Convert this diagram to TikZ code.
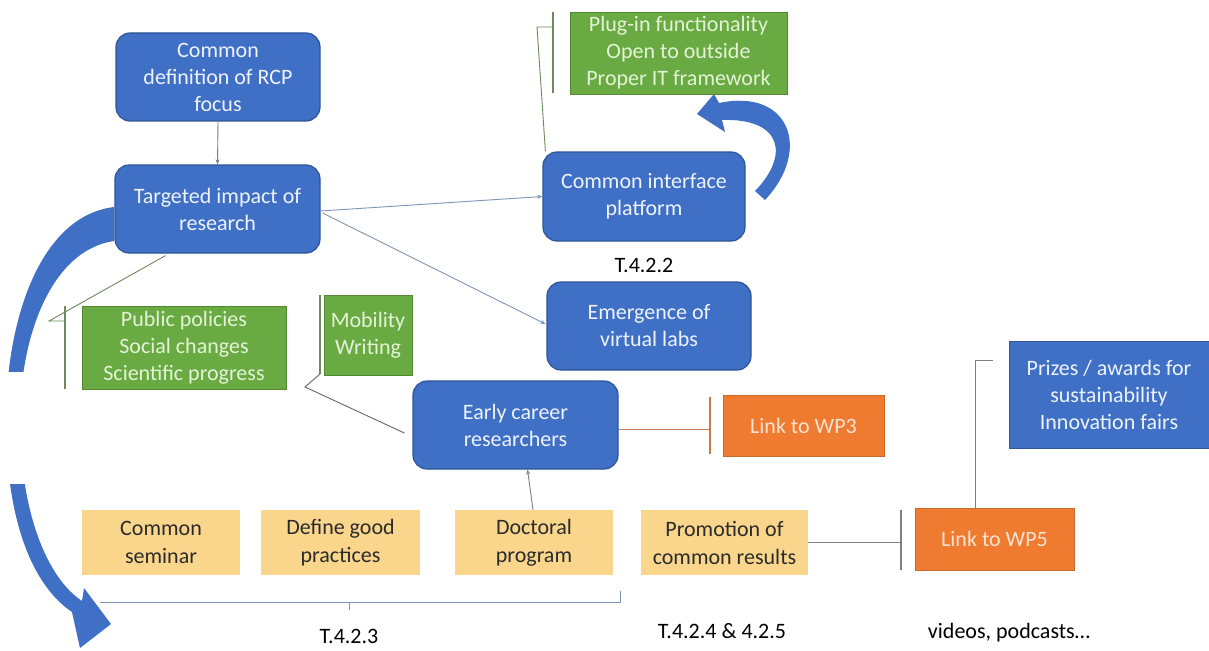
\documentclass[tikz,border=0pt]{standalone}
\usepackage{fontspec}
\setmainfont{Carlito}
\usetikzlibrary{calc,arrows.meta}
\begin{document}
\definecolor{bfill}{HTML}{3F70C6}
\definecolor{bdraw}{HTML}{2E5597}
\definecolor{gfill}{HTML}{6AAA42}
\definecolor{gtext}{HTML}{E4F3D8}
\definecolor{ofill}{HTML}{EE7B30}
\definecolor{otext}{HTML}{FBE3D2}
\definecolor{yfill}{HTML}{FAD68C}
\definecolor{ytext}{HTML}{2B2B2B}
\definecolor{btext}{HTML}{EEF3FB}
\definecolor{lgray}{HTML}{7F7F7F}
\definecolor{lblue}{HTML}{7F95B8}
\definecolor{lorange}{HTML}{C87A4A}
\definecolor{lgreen}{HTML}{6E8A5C}
\tikzset{
  rbox/.style={draw=bdraw, line width=1.2pt, fill=bfill, rounded corners=14pt, text=btext,
    align=center, inner sep=0pt, font=\fontsize{22}{27}\selectfont},
  sbox/.style={fill=bfill, draw=bdraw, line width=0.8pt, text=btext, align=center, inner sep=0pt,
    font=\fontsize{22}{27}\selectfont},
  gbox/.style={fill=gfill, draw=gfill!80!black, line width=0.6pt, text=gtext, align=center, inner sep=0pt,
    font=\fontsize{22}{27}\selectfont},
  obox/.style={fill=ofill, draw=ofill!85!black, line width=0.6pt, text=otext, align=center, inner sep=0pt,
    font=\fontsize{22}{27}\selectfont},
  ybox/.style={fill=yfill, text=ytext, align=center, inner sep=0pt,
    font=\fontsize{22}{28}\selectfont},
  lab/.style={text=black, font=\fontsize{22}{26}\selectfont, inner sep=0pt},
  conn/.style={draw=lgray, line width=0.9pt},
  bconn/.style={draw=lblue, line width=0.9pt, -{Stealth[length=5pt,width=4pt]}},
  garrow/.style={draw=lgray, line width=0.9pt, -{Stealth[length=5pt,width=4pt]}},
  bigarrow/.style={fill=bfill, draw=none},
}
\begin{tikzpicture}[x=1pt,y=-1pt]
\useasboundingbox (0,0) rectangle (1209,650);
\fill[white] (0,0) rectangle (1209,650);

% big curved arrows
\path[bigarrow] (114,207) .. controls (40,216) and (6,320) .. (6,420)
   .. controls (6,520) and (32,585) .. (72,612) -- (80,648) -- (111,624) -- (84,588) -- (82,601)
   .. controls (46,577) and (20,510) .. (20,420)
   .. controls (20,335) and (52,250) .. (114,241) -- cycle;
\fill[white] (0,372) rectangle (45,484);
\path[bigarrow] (755,191) .. controls (790,155) and (782,118) .. (722,120) -- (725,132) -- (697,114)
   -- (714,94) -- (719,103) .. controls (790,88) and (812,150) .. (765,200) -- cycle;

% blue rounded boxes
\node[rbox, minimum width=204pt, minimum height=88pt] (cdef) at (218,77) {Common\\definition of RCP\\focus};
\node[rbox, minimum width=205pt, minimum height=88pt] (tir) at (217.5,209) {Targeted impact of\\research};
\node[rbox, minimum width=202pt, minimum height=89pt] (cip) at (644,196.5) {Common interface\\platform};
\node[rbox, minimum width=204pt, minimum height=88pt] (evl) at (649,326) {Emergence of\\virtual labs};
\node[rbox, minimum width=205pt, minimum height=88pt] (ecr) at (515.5,425) {Early career\\researchers};
\node[sbox, minimum width=200pt, minimum height=107pt] (prz) at (1109,394.5) {Prizes / awards for\\sustainability\\Innovation fairs};

% green boxes
\node[gbox, minimum width=217pt, minimum height=82pt] (plug) at (678.5,53) {Plug-in functionality\\Open to outside\\Proper IT framework};
\node[gbox, minimum width=204pt, minimum height=83pt] (pub) at (184,347.5) {Public policies\\Social changes\\Scientific progress};
\node[gbox, minimum width=88pt, minimum height=80pt] (mob) at (368,335) {Mobility\\Writing};

% orange boxes
\node[obox, minimum width=161pt, minimum height=61pt] (wp3) at (803.5,425.5) {Link to WP3};
\node[obox, minimum width=159pt, minimum height=62pt] (wp5) at (994.5,539) {Link to WP5};

% yellow boxes
\node[ybox, minimum width=158pt, minimum height=65pt] (cs) at (161,542.5) {Common\\seminar};
\node[ybox, minimum width=159pt, minimum height=65pt] (dgp) at (340.5,542.5) {Define good\\practices};
\node[ybox, minimum width=158pt, minimum height=65pt] (doc) at (534,542.5) {Doctoral\\program};
\node[ybox, minimum width=167pt, minimum height=65pt] (prom) at (724.5,542.5) {Promotion of\\common results};

% labels
\node[lab] (t422) at (644,265) {T.4.2.2};
\node[lab] (t423) at (349,636) {T.4.2.3};
\node[lab] (t4245) at (722,631) {T.4.2.4 \& 4.2.5};
\node[lab] (vid) at (1009,633) {videos, podcasts…};

% connectors
\draw[garrow] (cdef.south) -- (tir.north);
\draw[bconn] ($(tir.east)+(0,2)$) -- (cip.west);
\draw[bconn] ($(tir.east)+(2,4)$) -- ($(evl.west)+(-1,-2)$);
\draw[garrow] ($(doc.north)+(-1,0)$) -- ($(ecr.south)+(12,0)$);

% plug bracket
\coordinate (pa) at (553,12);
\coordinate (pb) at (553,93);
\coordinate (pc) at (553,27);
\coordinate (pd) at (537,27);
\coordinate (pe) at ($(cip.north west)+(3,0)$);
\draw[draw=lgreen, line width=1.6pt] (pa) -- (pb);
\draw[draw=lgreen, line width=0.9pt] (pc) -- (pd) -- (pe);

% public bracket
\coordinate (qa) at (65,306);
\coordinate (qb) at (65,389);
\coordinate (qc) at (65,321);
\coordinate (qd) at (49,321);
\coordinate (qe) at ($(tir.south)+(-52,2)$);
\draw[draw=lgreen, line width=1.2pt] (qa) -- (qb);
\draw[draw=lgreen, line width=0.9pt] (qc) -- (qd) -- (qe);

% mobility bracket
\coordinate (ma) at (320,295);
\coordinate (mb) at (320,374);
\coordinate (mc) at (305,387);
\coordinate (md) at ($(ecr.west)+(-8,8)$);
\draw[draw=lgreen, line width=1.6pt] (ma) -- (mb);
\draw[draw=lgray!80!black, line width=0.9pt] (mb) -- (mc) -- (md);

% WP3 link
\coordinate (w3a) at (710,429);
\coordinate (w3t) at (710,397);
\coordinate (w3b) at (710,454);
\draw[draw=lorange, line width=0.9pt] ($(ecr.east)+(0,4)$) -- (w3a);
\draw[draw=lorange, line width=1.2pt] (w3t) -- (w3b);

% WP5 link
\coordinate (w5a) at (901,542);
\coordinate (w5t) at (901,510);
\coordinate (w5b) at (901,570);
\draw[conn] ($(prom.east)+(0,-0.5)$) -- (w5a);
\draw[conn, line width=1.2pt] (w5t) -- (w5b);
\coordinate (za) at (975,360);
\coordinate (zb) at (993,360);
\draw[conn] ($(wp5.north)+(-19.5,0)$) -- (za) -- (zb);

% bottom brace
\coordinate (ba) at (100,602);
\coordinate (bb) at (620,602);
\coordinate (bc) at (620,591);
\coordinate (bm) at (349,602);
\coordinate (bn) at (349,610);
\draw[draw=lblue, line width=0.9pt] (ba) -- (bb) -- (bc);
\draw[draw=lblue, line width=0.9pt] (bm) -- (bn);
\end{tikzpicture}
\end{document}
